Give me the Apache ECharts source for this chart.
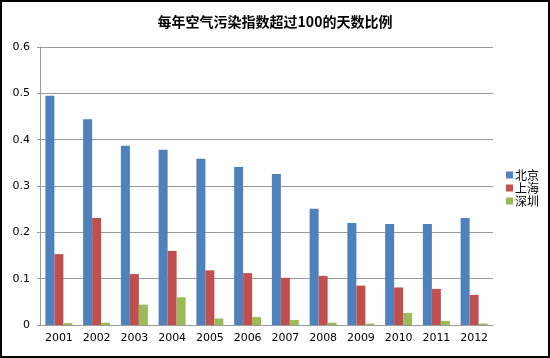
<!DOCTYPE html>
<html><head><meta charset="utf-8">
<script src="https://cdn.jsdelivr.net/npm/echarts@6/dist/echarts.min.js"></script>
<style>html,body{margin:0;padding:0;background:#fff}#c{width:550px;height:358px;box-sizing:border-box;border:2px solid #000;}</style>
</head><body><div id="c"></div>
<script>
const categories = ['2001','2002','2003','2004','2005','2006','2007','2008','2009','2010','2011','2012'];
const seriesNames = ['北京','上海','深圳'];
const beijing = [0.495,0.444,0.387,0.378,0.359,0.341,0.326,0.251,0.220,0.218,0.218,0.231];
const shanghai = [0.153,0.231,0.110,0.160,0.118,0.112,0.102,0.106,0.085,0.081,0.078,0.065];
const shenzhen = [0.004,0.005,0.044,0.060,0.014,0.017,0.011,0.005,0.003,0.026,0.009,0.003];
const colors = ['#4F81BD','#C0504D','#9BBB59'];
const font = '"Noto Sans CJK SC", sans-serif';
const chart = echarts.init(document.getElementById('c'));
const data = [beijing, shanghai, shenzhen];
chart.setOption({
  animation:false,
  title:{text:'每年空气污染指数超过100的天数比例',left:'center',top:8,textStyle:{fontSize:14,fontWeight:'bold',color:'#000',fontFamily:font}},
  legend:{orient:'vertical',left:499,top:162,itemWidth:7,itemHeight:7,itemGap:1,icon:'rect',
    textStyle:{fontSize:12,color:'#000',fontFamily:font,padding:[0,0,0,-3]},data:seriesNames},
  grid:{left:38,right:55,top:45,bottom:31,containLabel:false},
  xAxis:{type:'category',data:categories,axisLine:{lineStyle:{color:'#999'}},axisTick:{show:false},
    axisLabel:{color:'#000',fontSize:11,fontFamily:'"DejaVu Sans", sans-serif',margin:8}},
  yAxis:{type:'value',min:0,max:0.6,interval:0.1,
    axisLine:{show:true,lineStyle:{color:'#999'}},axisTick:{show:true,length:3,lineStyle:{color:'#999'}},
    splitLine:{lineStyle:{color:'#999'}},
    axisLabel:{color:'#000',fontSize:11,fontFamily:'"DejaVu Sans", sans-serif',margin:10,
      formatter:v=>v===0?'0':v.toFixed(1)}},
  series: seriesNames.map((n,i)=>({name:n,type:'bar',data:data[i],barWidth:9,barGap:'0%',
    itemStyle:{color:colors[i]}}))
});
</script></body></html>
